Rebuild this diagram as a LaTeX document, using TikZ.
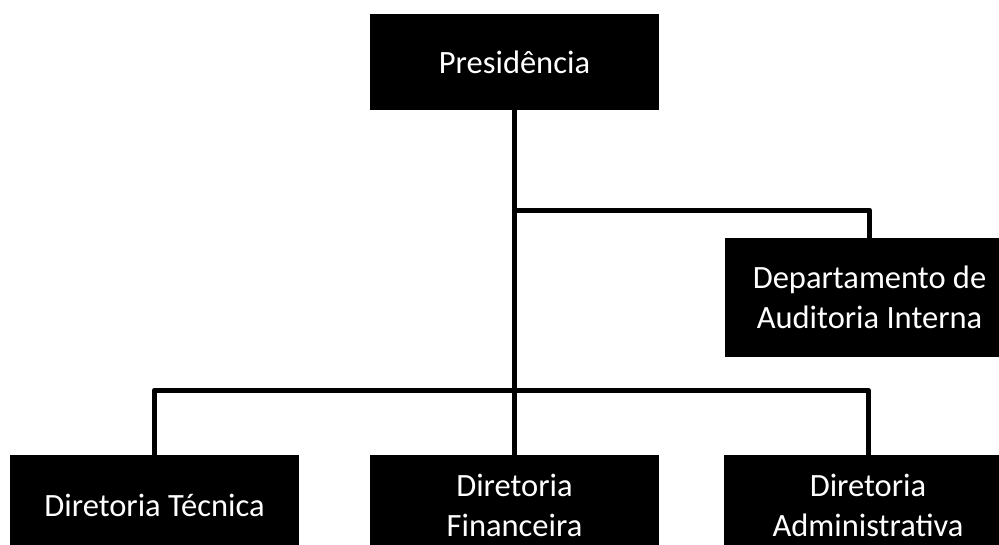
\documentclass[tikz,border=0pt]{standalone}
\usepackage{fontspec}
\setmainfont{Carlito}
\usetikzlibrary{positioning}
\tikzset{
  caixa/.style={fill=black, text=white, minimum width=289pt, inner sep=0pt,
    align=center, font=\fontsize{32.5}{40}\selectfont},
  linha/.style={line width=5pt, line join=round}
}
\begin{document}
\begin{tikzpicture}[x=1pt,y=-1pt]
				\useasboundingbox (0,0) rectangle (999,544);
				\node[caixa, minimum height=96pt] (pres) at (514.5,62) {Presidência};
				\node[caixa, minimum height=119pt] (dep) at (869.5,297.5) {Departamento de\\Auditoria Interna};
				\node[caixa, minimum height=100pt] (dtec) at (154.5,505) {Diretoria Técnica};
				\node[caixa, minimum height=100pt] (dfin) at (514.5,505) {Diretoria\\Financeira};
				\node[caixa, minimum height=100pt] (dadm) at (868,505) {Diretoria\\Administrativa};
				\coordinate (r1) at (514.5,210);
				\coordinate (r2) at (514.5,390);
				\draw[linha] (pres) to (dfin);
				\draw[linha] (r1) -| (dep);
				\draw[linha] (r2) -| (dtec);
				\draw[linha] (r2) -| (dadm);
			\end{tikzpicture}
\end{document}
